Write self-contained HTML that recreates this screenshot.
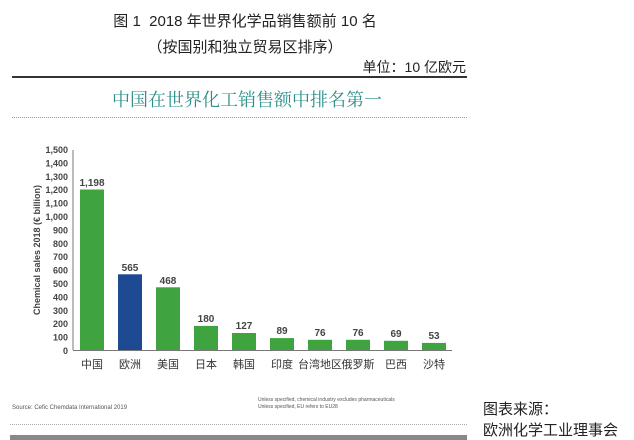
<!DOCTYPE html>
<html><head><meta charset="utf-8"><style>
body{margin:0;width:634px;height:440px;background:#fff;position:relative;overflow:hidden;font-family:"Liberation Sans","Noto Sans CJK SC",sans-serif;}
.a{position:absolute;white-space:nowrap;}
</style></head><body>
<div class="a" style="left:0;width:490px;text-align:center;top:10px;font-size:15px;color:#222;">图 1&nbsp; 2018 年世界化学品销售额前 10 名</div>
<div class="a" style="left:0;width:490px;text-align:center;top:36px;font-size:15px;color:#222;">（按国别和独立贸易区排序）</div>
<div class="a" style="right:168px;top:57px;font-size:14px;color:#222;">单位：10 亿欧元</div>
<div class="a" style="left:12px;top:76px;width:455px;height:2px;background:#333;"></div>
<div class="a" style="left:0;width:494px;text-align:center;top:86px;font-size:18px;color:#2a8f8a;font-family:'Noto Serif CJK SC',serif;">中国在世界化工销售额中排名第一</div>
<div class="a" style="left:12px;top:117px;width:455px;border-top:1px dotted #999;"></div>
<svg class="a" style="left:0;top:0" width="634" height="440">
<g font-family="Liberation Sans, sans-serif" font-size="9" fill="#444" text-anchor="end" font-weight="bold">
<text x="68" y="153">1,500</text><text x="68" y="166.4">1,400</text><text x="68" y="179.8">1,300</text><text x="68" y="193.2">1,200</text><text x="68" y="206.6">1,100</text><text x="68" y="220">1,000</text><text x="68" y="233.4">900</text><text x="68" y="246.8">800</text><text x="68" y="260.2">700</text><text x="68" y="273.6">600</text><text x="68" y="287">500</text><text x="68" y="300.4">400</text><text x="68" y="313.8">300</text><text x="68" y="327.2">200</text><text x="68" y="340.6">100</text><text x="68" y="354">0</text>
</g>
<text transform="translate(40,250) rotate(-90)" text-anchor="middle" font-family="Liberation Sans, sans-serif" font-size="9" fill="#444" font-weight="bold">Chemical sales 2018 (€ billion)</text>
<line x1="73" y1="150" x2="73" y2="350" stroke="#777"/>
<line x1="73" y1="350.5" x2="452" y2="350.5" stroke="#777"/>
<g fill="#3fa33f">
<rect x="80" y="189.5" width="24" height="160.5"/>
<rect x="156" y="287.3" width="24" height="62.7"/>
<rect x="194" y="325.9" width="24" height="24.1"/>
<rect x="232" y="333" width="24" height="17"/>
<rect x="270" y="338.1" width="24" height="11.9"/>
<rect x="308" y="339.8" width="24" height="10.2"/>
<rect x="346" y="339.8" width="24" height="10.2"/>
<rect x="384" y="340.8" width="24" height="9.2"/>
<rect x="422" y="342.9" width="24" height="7.1"/>
</g>
<rect x="118" y="274.3" width="24" height="75.7" fill="#1d4a93"/>
<g font-family="Liberation Sans, sans-serif" font-size="10" fill="#444" text-anchor="middle" font-weight="bold">
<text x="92" y="186">1,198</text><text x="130" y="271">565</text><text x="168" y="284">468</text><text x="206" y="322">180</text><text x="244" y="329">127</text><text x="282" y="334">89</text><text x="320" y="336">76</text><text x="358" y="336">76</text><text x="396" y="337">69</text><text x="434" y="339">53</text>
</g>
<g font-family="Liberation Sans, Noto Sans CJK SC, sans-serif" font-size="11" fill="#333" text-anchor="middle">
<text x="92" y="368">中国</text><text x="130" y="368">欧洲</text><text x="168" y="368">美国</text><text x="206" y="368">日本</text><text x="244" y="368">韩国</text><text x="282" y="368">印度</text><text x="320" y="368">台湾地区</text><text x="358" y="368">俄罗斯</text><text x="396" y="368">巴西</text><text x="434" y="368">沙特</text>
</g>
<text x="12" y="409" font-family="Liberation Sans, sans-serif" font-size="6" fill="#555">Source: Cefic Chemdata International 2019</text>
<text x="258" y="401" font-family="Liberation Sans, sans-serif" font-size="5" fill="#555">Unless specified, chemical industry excludes pharmaceuticals</text>
<text x="258" y="408" font-family="Liberation Sans, sans-serif" font-size="5" fill="#555">Unless specified, EU refers to EU28</text>
<line x1="10" y1="424.5" x2="467" y2="424.5" stroke="#aaa" stroke-dasharray="1,1"/>
<rect x="10" y="435" width="457" height="5" fill="#888"/>
</svg>
<div class="a" style="left:483px;top:398px;font-size:15px;color:#222;">图表来源：</div>
<div class="a" style="left:483px;top:419px;font-size:15px;color:#222;">欧洲化学工业理事会</div>
</body></html>
